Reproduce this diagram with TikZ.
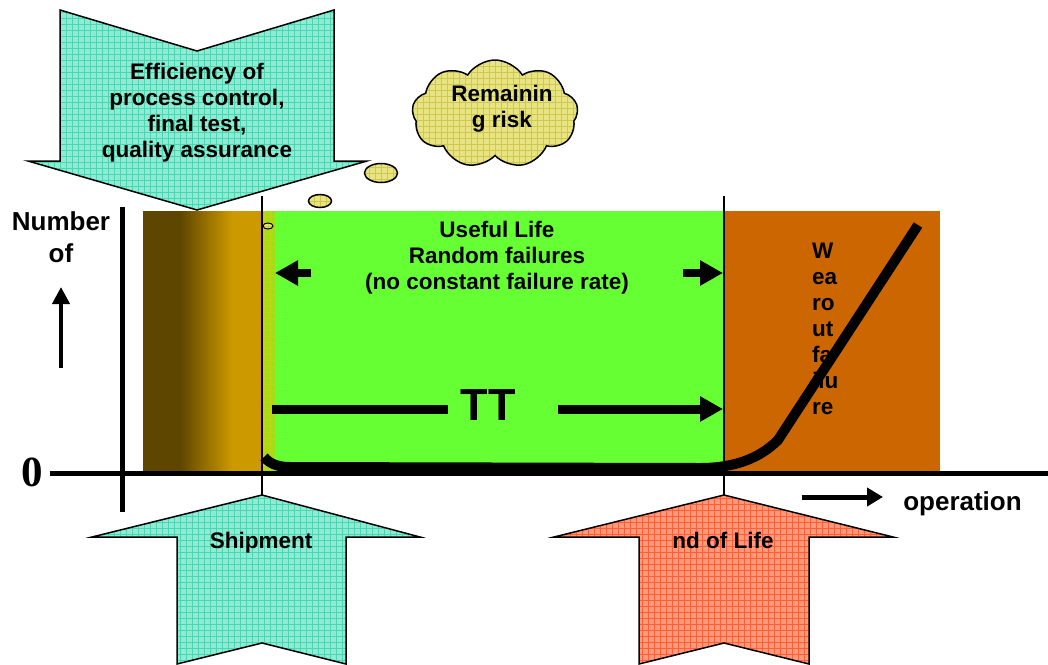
\documentclass[tikz,border=0pt]{standalone}
\usepackage{fontspec}
\setmainfont{Liberation Sans}
\newfontfamily\serifzero{Liberation Serif}
\usetikzlibrary{arrows.meta,shapes.geometric,shapes.symbols}

\definecolor{tealfill}{HTML}{92EAD5}
\definecolor{tealgrid}{HTML}{4AD6B0}
\definecolor{redfill}{HTML}{FF9A7C}
\definecolor{redgrid}{HTML}{FF6038}
\definecolor{cloudfill}{HTML}{E8E482}
\definecolor{cloudgrid}{HTML}{CFC84C}
\definecolor{earlydark}{HTML}{5F4600}
\definecolor{earlygold}{HTML}{CC9900}
\definecolor{stripfill}{HTML}{9CDF1C}
\definecolor{stripgrid}{HTML}{C7D40C}
\definecolor{usefulgreen}{HTML}{66FF33}
\definecolor{wearorange}{HTML}{CC6600}

\tikzset{
  txt/.style={font=\fontsize{22.5}{26}\selectfont\bfseries, align=center, inner sep=0pt},
  axtxt/.style={font=\fontsize{26}{32}\selectfont\bfseries, align=center, inner sep=0pt},
  hatched/.style 2 args={fill=#1, path picture={\draw[#2, line width=0.5pt, step=6pt]
      (path picture bounding box.south west) grid (path picture bounding box.north east);}},
  blockarrow/.style={draw=black, line width=1.5pt, line join=miter},
  marker/.style={line width=1.5pt},
  axisline/.style={line width=5pt},
  fat/.style={line width=#1, -{Triangle[length=23pt, width=24pt]}},
  bubble/.style={ellipse, draw=black, line width=1.5pt, hatched={cloudfill}{cloudgrid}, inner sep=0pt},
}

\begin{document}
\begin{tikzpicture}[x=1pt, y=-1pt]
  \useasboundingbox (0,0) rectangle (1048,664);

  % life phases
  \fill[earlydark] (143,211) rectangle (180,471);
  \shade[left color=earlydark, right color=earlygold] (180,211) rectangle (232,471);
  \fill[earlygold] (232,211) rectangle (263,471);
  \path[hatched={stripfill}{stripgrid}] (263,211) rectangle (275,471);
  \fill[usefulgreen] (275,211) rectangle (724,471);
  \fill[wearorange] (724,211) rectangle (940,471);

  % markers and axes
  \coordinate (shipTop) at (262,196);
  \coordinate (shipTip) at (262,495);
  \coordinate (eolTop) at (724,196);
  \coordinate (eolTip) at (724,495);
  \draw[marker] (shipTop) -- (shipTip);
  \draw[marker] (eolTop) -- (eolTip);
  \coordinate (yBot) at (122,512);
  \coordinate (yTop) at (122,207);
  \coordinate (xL) at (50,473);
  \coordinate (xR) at (1048,473);
  \draw[axisline] (yBot) -- (yTop);
  \draw[axisline] (xL) -- (xR);

  \node[font=\serifzero\fontsize{43}{43}\selectfont\bfseries, inner sep=0pt] (zero) at (32.5,472) {0};
  \node[axtxt] (number) at (61,237) {Number\\of};
  \coordinate (upA) at (61,368);
  \coordinate (upB) at (61,287);
  \draw[line width=4pt, -{Triangle[length=17pt, width=17pt]}] (upA) -- (upB);
  \node[axtxt, anchor=base] (operation) at (962.5,510) {operation};
  \coordinate (opA) at (802,497);
  \coordinate (opB) at (883,497);
  \draw[line width=5pt, -{Triangle[length=16pt, width=18pt]}] (opA) -- (opB);

  % useful life
  \node[txt] (useful) at (497,258) {Useful Life\\Random failures\\(no constant failure rate)};
  \coordinate (ulLtail) at (311,273);
  \coordinate (ulLtip) at (275,273);
  \coordinate (ulRtail) at (683,273);
  \coordinate (ulRtip) at (723,273);
  \draw[fat=8pt] (ulLtail) -- (ulLtip);
  \draw[fat=8pt] (ulRtail) -- (ulRtip);

  \node[font=\fontsize{45}{45}\selectfont\bfseries, inner sep=0pt] (tt) at (488,405.5) {TT};
  \coordinate (ttA) at (272,409);
  \coordinate (ttB) at (448,409);
  \coordinate (ttC) at (558,409);
  \coordinate (ttD) at (723,409);
  \draw[line width=9pt] (ttA) -- (ttB);
  \draw[fat=9pt] (ttC) -- (ttD);

  % wear out
  \node[txt, align=left, anchor=north west] (wearout) at (812,243) {W\\ea\\ro\\ut\\fa\\ilu\\re};

  % failure curve
  \draw[line width=10pt, line cap=butt, line join=round]
    (264,457) .. controls (270,464) and (278,467) .. (290,467) -- (700,468)
    .. controls (735,468) and (760,458) .. (778,440) -- (918,225);

  % remaining risk
  \node[cloud, cloud puffs=9, cloud puff arc=115, aspect=1.55, minimum width=166pt,
        minimum height=108pt, draw=black, line width=1.5pt, hatched={cloudfill}{cloudgrid}] (risk) at (495,114) {};
  \node[txt] (risktxt) at (502,109) {Remainin\\g risk};
  \node[bubble, minimum width=33pt, minimum height=19pt] (b1) at (381,173) {};
  \node[bubble, minimum width=23pt, minimum height=13pt] (b2) at (320,201) {};
  \node[bubble, minimum width=10pt, minimum height=6pt, line width=1pt] (b3) at (268,226) {};

  % big arrows
  \path[blockarrow, hatched={tealfill}{tealgrid}] (60,10) -- (197,51) -- (334,10) -- (334,161)
    -- (367,161) -- (197,210) -- (28,161) -- (60,161) -- cycle;
  \node[txt] (efficiency) at (197,113) {Efficiency of\\process control,\\final test,\\quality assurance};

  \path[blockarrow, hatched={tealfill}{tealgrid}] (shipTip) -- (420,537) -- (346,537) -- (346,664)
    -- (262,643) -- (177,664) -- (177,537) -- (92,537) -- cycle;
  \node[txt, anchor=base] (shipment) at (261,548) {Shipment};

  \path[blockarrow, hatched={redfill}{redgrid}] (eolTip) -- (893,537) -- (809,537) -- (809,664)
    -- (724,643) -- (639,664) -- (639,537) -- (554,537) -- cycle;
  \node[txt, anchor=base] (eol) at (723,548) {nd of Life};
\end{tikzpicture}
\end{document}
